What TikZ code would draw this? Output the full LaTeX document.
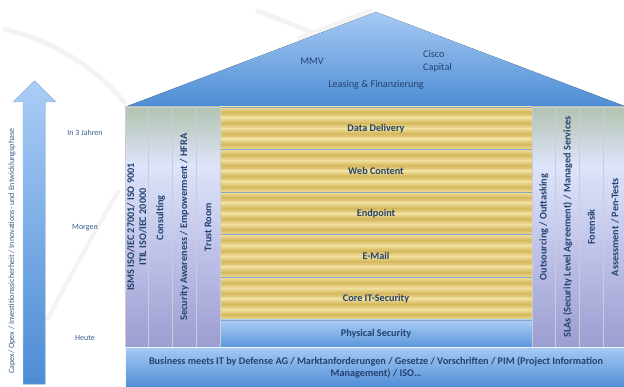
\documentclass[tikz,border=0pt]{standalone}
\usepackage{fontspec}
\setmainfont{Carlito}
\definecolor{txtc}{HTML}{24426F}
\definecolor{sidec}{HTML}{3A5C8E}
\definecolor{rooftop}{HTML}{A6CAF4}
\definecolor{roofbot}{HTML}{4D8CD4}
\definecolor{gl}{HTML}{F0DF9E}
\definecolor{gd}{HTML}{D5B75C}
\definecolor{sepc}{HTML}{8BA3BE}
\definecolor{pbot}{HTML}{9C9DD0}
\definecolor{pmidb}{HTML}{C4C8EC}
\definecolor{pmid}{HTML}{DEE4FA}
\definecolor{ptop}{HTML}{B2C3B0}
\definecolor{pline}{HTML}{C9CDD8}
\definecolor{physt}{HTML}{AACEF7}
\definecolor{physb}{HTML}{5A96DA}
\definecolor{basetop}{HTML}{A6CAF4}
\definecolor{basebot}{HTML}{4E8DD6}
\definecolor{arrtop}{HTML}{AACDF6}
\definecolor{arrbot}{HTML}{4C8CD5}
\definecolor{arrline}{HTML}{9BBCE6}
\definecolor{wm}{HTML}{F3F3F3}
\pgfdeclareverticalshading{pillarshade}{100bp}{color(0bp)=(pbot); color(25bp)=(pbot); color(48bp)=(pmidb); color(63bp)=(pmid); color(75bp)=(ptop); color(100bp)=(ptop)}
\begin{document}
\begin{tikzpicture}[x=1pt,y=-1pt,
  boldtxt/.style={text=txtc, font=\fontsize{10.2}{12}\selectfont\bfseries, inner sep=0pt},
  rooftxt/.style={text=txtc, font=\fontsize{10.2}{13}\selectfont, inner sep=0pt},
  side/.style={text=sidec, font=\fontsize{8}{9}\selectfont, inner sep=0pt},
  pillar/.style={draw=pline, line width=0.6pt, shading=pillarshade, minimum width=23.75pt, minimum height=240pt, inner sep=0pt, outer sep=0pt},
  plabel/.style={rotate=90, text=txtc, font=\fontsize{10.2}{12}\selectfont\bfseries, align=center, inner sep=0pt},
  layer/.style={boldtxt, draw=sepc, line width=0.8pt, minimum width=312pt, minimum height=42.6pt, outer sep=0pt},
  physbox/.style={boldtxt, draw=sepc, line width=0.6pt, top color=physt, bottom color=physb, minimum width=312pt, minimum height=27pt, outer sep=0pt},
  basebox/.style={boldtxt, top color=basetop, bottom color=basebot, draw=white!85!basetop, line width=0.6pt, minimum width=502pt, minimum height=40pt, align=center, outer sep=0pt},
  wmline/.style={draw=wm, line width=5pt, line cap=round}
]
\useasboundingbox (0,0) rectangle (624,387);
\clip (0,0) rectangle (624,387);

% faint watermark
\draw[wmline] (5,29.5) .. controls (53,40.8) and (94.7,66.7) .. (125,103);
\draw[wmline, line width=4pt] (118,192) .. controls (90,240) .. (48,318);
\draw[wmline] (258,11) -- (322,36);
\draw[wmline] (300,38) -- (370,11);

% rising arrow
\filldraw[top color=arrtop, bottom color=arrbot, draw=arrline, line width=0.5pt]
  (23,384) -- (23,102) -- (13,102) -- (34.5,81) -- (56,102) -- (45,102) -- (45,384) -- cycle;
\node[side, font=\fontsize{8.1}{9}\selectfont, rotate=90] (axis) at (12,251) {Capex/ Opex / Investitionssicherheit / Innovations- und Entwicklungsphase};

% time labels
\node[side] (t3) at (85,133) {In 3 Jahren};
\node[side] (tm) at (85,228) {Morgen};
\node[side] (th) at (85,338) {Heute};

% roof
\fill[top color=rooftop, bottom color=roofbot] (125,107) -- (376,12) -- (627,107) -- cycle;
\node[rooftxt] (mmv) at (312,61) {MMV};
\node[rooftxt, anchor=west, align=left] (cisco) at (423,61) {Cisco\\Capital};
\node[rooftxt] (leasing) at (376,85) {Leasing \& Finanzierung};

% gold stripes
\foreach \i in {0,...,19}
  \fill[top color=gl, bottom color=gl, middle color=gd]
    (220,{107+\i*10.65}) rectangle (532,{107+(\i+1)*10.65});

% layers
\node[layer] (l1) at (376,128.3) {Data Delivery};
\node[layer] (l2) at (376,170.9) {Web Content};
\node[layer] (l3) at (376,213.5) {Endpoint};
\node[layer] (l4) at (376,256.1) {E-Mail};
\node[layer] (l5) at (376,298.7) {Core IT-Security};
\node[physbox] (phys) at (376,333.5) {Physical Security};

% left pillars
\node[pillar] (p1) at (136.875,227) {};
\node[pillar] (p2) at (160.625,227) {};
\node[pillar] (p3) at (184.375,227) {};
\node[pillar] (p4) at (208.125,227) {};
\node[plabel] (lp1) at (p1.center) {ISMS ISO/IEC 27001/ ISO 9001\\ITIL ISO/IEC 20000};
\node[plabel] (lp2) at ([yshift=9pt]p2.center) {Consulting};
\node[plabel] (lp3) at (p3.center) {Security Awareness / Empowerment / HFRA};
\node[plabel] (lp4) at (p4.center) {Trust Room};

% right pillars
\node[pillar] (p5) at (543.875,227) {};
\node[pillar] (p6) at (567.625,227) {};
\node[pillar] (p7) at (591.375,227) {};
\node[pillar] (p8) at (615.125,227) {};
\node[plabel] (lp5) at (p5.center) {Outsourcing / Outtasking};
\node[plabel] (lp6) at (p6.center) {SLAs (Security Level Agreement) / Managed Services};
\node[plabel] (lp7) at (p7.center) {Forensik};
\node[plabel] (lp8) at (p8.center) {Assessment / Pen-Tests};

% base
\node[basebox] (base) at (376,367.5) {Business meets IT by Defense AG / Marktanforderungen / Gesetze / Vorschriften / PIM (Project Information\\Management) / ISO\dots};
\end{tikzpicture}
\end{document}
